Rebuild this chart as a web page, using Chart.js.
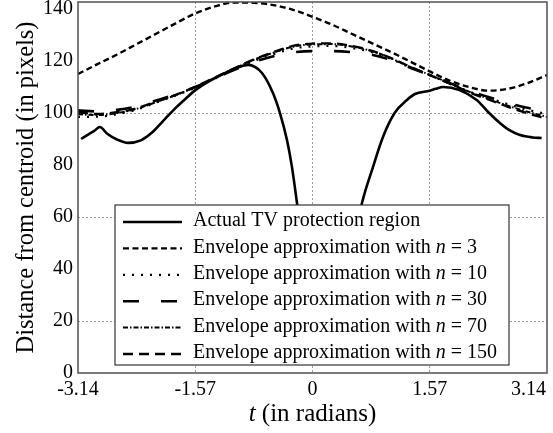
<!DOCTYPE html>
<html><head><meta charset="utf-8">
<script src="https://cdn.jsdelivr.net/npm/chart.js@4.4.1/dist/chart.umd.min.js"></script>
<style>html,body{margin:0;padding:0;background:#fff;}</style>
</head><body>
<canvas id="c" width="553" height="433"></canvas>
<script>
// ---- tick labels / axes ----
const xTickValues = [-3.14159, -1.5708, 0, 1.5708, 3.14159];
const xTickLabels = ['-3.14', '-1.57', '0', '1.57', '3.14'];
const yTickValues = [0, 20, 40, 60, 80, 100, 120, 140];
const yGridValues = [20, 60, 100];
const yMax = 142.7;
const xTitleItalic = 't';
const xTitleRest = ' (in radians)';
const yTitle = 'Distance from centroid (in pixels)';

// ---- series labels ----
const seriesLabels = [
  'Actual TV protection region',
  'Envelope approximation with n = 3',
  'Envelope approximation with n = 10',
  'Envelope approximation with n = 30',
  'Envelope approximation with n = 70',
  'Envelope approximation with n = 150'
];

// ---- actual region ----
const actualT = [-3.10, -3.00, -2.92, -2.85, -2.75, -2.62, -2.47, -2.30, -2.15, -2.00, -1.85, -1.70, -1.57, -1.40, -1.20, -1.00, -0.864, -0.677, -0.53, -0.436, -0.342, -0.275, -0.208, -0.15, 0.00, 0.20, 0.40, 0.55, 0.663, 0.81, 0.944, 1.10, 1.265, 1.372, 1.57, 1.65, 1.75, 1.97, 2.20, 2.35, 2.51, 2.65, 2.78, 2.95, 3.07];
const actualV = [90, 91.8, 93.2, 94.6, 92, 89.8, 88.5, 89.5, 92.5, 97, 101.5, 105.5, 108.8, 112, 115, 117.5, 118.5, 115.4, 107.7, 100, 89.6, 79.2, 65.4, 52, 35, 28, 35, 50, 65.4, 79.2, 90.8, 100, 105, 107.3, 108.6, 109.3, 110, 108.8, 105, 100.5, 96.2, 93.2, 91.5, 90.6, 90.4];

// ---- envelopes (shared t grid) ----
const envT = [-3.1416, -2.8798, -2.618, -2.3562, -2.0944, -1.8326, -1.5708, -1.309, -1.0472, -0.7854, -0.5236, -0.2618, 0, 0.2618, 0.5236, 0.7854, 1.0472, 1.309, 1.5708, 1.8326, 2.0944, 2.3562, 2.618, 2.8798, 3.1416];
const env3   = [115, 118.8, 122.5, 126.5, 130.5, 134.5, 138.3, 141, 142.5, 142.4, 141.5, 139.7, 137, 134, 130.5, 127, 123.5, 119.8, 116, 112.5, 110, 108.6, 109.3, 111.5, 114.6];
const env10  = [98.5, 98.6, 99.5, 101.3, 104, 106.7, 109.8, 113.2, 116.8, 120, 122.6, 124.8, 125.6, 125.8, 125, 123.5, 120.8, 117.5, 114.5, 111.4, 108.3, 105.8, 103.4, 101.3, 99.5];
const env30  = [101, 100.6, 101.2, 102.5, 104.8, 107.2, 110, 113.3, 116.6, 119.6, 121.8, 123.3, 123.8, 123.8, 123.4, 122.5, 120.4, 117.4, 114.6, 111.6, 108.6, 106.2, 103.8, 102, 100.5];
const env70  = [99.5, 99.2, 100, 101.6, 104.2, 106.9, 110, 113.5, 117.1, 120.5, 123.2, 125.5, 126.4, 126.5, 125.6, 123.9, 121.1, 117.7, 114.7, 111.5, 108.2, 105.5, 102.8, 100.5, 98.5];
const env150 = [100.3, 99.6, 100.3, 101.8, 104.4, 107, 110.1, 113.6, 117.2, 120.6, 123.4, 125.8, 126.7, 126.8, 125.8, 124, 121.2, 117.8, 114.6, 111.4, 108, 105.2, 102.4, 99.9, 97.8];

function pts(ts, vs) { return ts.map((t, i) => ({x: t, y: vs[i]})); }

const FONT = "'Liberation Serif', 'Times New Roman', serif";
Chart.defaults.font.family = FONT;
Chart.defaults.color = '#000';

const styles = [
  {w: 2.6, dash: []},
  {w: 2.4, dash: [6, 3.5]},
  {w: 2.2, dash: [2, 7]},
  {w: 2.6, dash: [16, 22]},
  {w: 2, dash: [5, 2, 1.5, 2]},
  {w: 2.4, dash: [10, 6]}
];
const seriesData = [pts(actualT, actualV), pts(envT, env3), pts(envT, env10), pts(envT, env30), pts(envT, env70), pts(envT, env150)];

const datasets = seriesData.map((d, i) => ({
  label: seriesLabels[i],
  data: d,
  borderColor: '#000',
  borderWidth: styles[i].w,
  borderDash: styles[i].dash,
  pointRadius: 0,
  fill: false,
  cubicInterpolationMode: 'monotone'
}));

const boxPlugin = {
  id: 'boxAndLegend',
  beforeDraw(chart) {
    const sx = chart.scales.x;
    if (sx && sx.getLabelItems) {
      const items = sx.getLabelItems();
      const last = items[items.length - 1];
      if (last && last.options) {
        last.options.textAlign = 'right';
        last.options.translation[0] = chart.chartArea.right - 1;
      }
    }
  },
  afterDatasetsDraw(chart) {
    const {ctx, chartArea: a} = chart;
    ctx.save();
    ctx.setLineDash([]);
    ctx.strokeStyle = '#505050';
    ctx.lineWidth = 1.5;
    ctx.strokeRect(a.left, a.top, a.right - a.left, a.bottom - a.top);
    ctx.restore();
  },
  afterDraw(chart) {
    const {ctx, chartArea: a} = chart;
    ctx.save();
    // x-axis title
    ctx.fillStyle = '#000';
    ctx.textBaseline = 'middle';
    const f1 = "italic 25px " + FONT, f2 = "25px " + FONT;
    ctx.font = f1; const w1 = ctx.measureText(xTitleItalic).width;
    ctx.font = f2; const w2 = ctx.measureText(xTitleRest).width;
    const cx = (a.left + a.right) / 2, ty = 414;
    let sx = cx - (w1 + w2) / 2;
    ctx.font = f1; ctx.textAlign = 'left'; ctx.fillText(xTitleItalic, sx, ty);
    ctx.font = f2; ctx.fillText(xTitleRest, sx + w1, ty);

    // legend box
    const lx = 115, ly = 205, lw = 394, lh = 160;
    ctx.fillStyle = '#fff';
    ctx.fillRect(lx, ly, lw, lh);
    ctx.strokeStyle = '#333';
    ctx.lineWidth = 1.2;
    ctx.setLineDash([]);
    ctx.strokeRect(lx, ly, lw, lh);
    const rowY0 = 221, rowH = 26.4;
    chart.data.datasets.forEach((ds, i) => {
      const y = rowY0 + i * rowH;
      ctx.save();
      ctx.strokeStyle = '#000';
      ctx.lineWidth = ds.borderWidth;
      ctx.setLineDash(ds.borderDash || []);
      ctx.beginPath();
      ctx.moveTo(123, y + 1);
      ctx.lineTo(182, y + 1);
      ctx.stroke();
      ctx.restore();
      ctx.fillStyle = '#000';
      ctx.textBaseline = 'middle';
      ctx.textAlign = 'left';
      const lab = ds.label;
      const k = lab.indexOf(' n = ');
      let x = 193;
      const fr = "20px " + FONT, fi = "italic 20px " + FONT;
      if (k < 0) {
        ctx.font = fr; ctx.fillText(lab, x, y);
      } else {
        const p1 = lab.slice(0, k + 1), p2 = 'n', p3 = lab.slice(k + 2);
        ctx.font = fr; ctx.fillText(p1, x, y); x += ctx.measureText(p1).width;
        ctx.font = fi; ctx.fillText(p2, x, y); x += ctx.measureText(p2).width;
        ctx.font = fr; ctx.fillText(p3, x, y);
      }
    });
    ctx.restore();
  }
};

new Chart(document.getElementById('c'), {
  type: 'line',
  data: {datasets},
  options: {
    responsive: false,
    animation: false,
    devicePixelRatio: 1,
    layout: {padding: {top: 2, right: 6, left: 0, bottom: 0}},
    plugins: {legend: {display: false}, tooltip: {enabled: false}},
    scales: {
      x: {
        type: 'linear',
        min: -3.14159, max: 3.14159,
        afterBuildTicks: s => { s.ticks = xTickValues.map(v => ({value: v})); },
        afterFit: s => { s.height = 60; s.paddingLeft = 0; s.paddingRight = 0; },
        ticks: {
          autoSkip: false, maxRotation: 0, minRotation: 0, padding: 5,
          color: '#000', font: {size: 20},
          callback: (v, i) => xTickLabels[i]
        },
        grid: {
          drawTicks: false,
          lineWidth: 1,
          color: c => (c.tick && Math.abs(c.tick.value) < 3) ? '#9a9a9a' : 'rgba(0,0,0,0)'
        },
        border: {display: false, dash: [2, 2]}
      },
      y: {
        type: 'linear',
        min: 0, max: yMax,
        afterBuildTicks: s => { s.ticks = yTickValues.map(v => ({value: v})); },
        afterFit: s => { s.width = 78; s.paddingTop = 0; s.paddingBottom = 0; },
        ticks: {padding: 5, color: '#000', font: {size: 20}, callback: v => String(v)},
        grid: {
          drawTicks: false,
          lineWidth: 1,
          color: c => (c.tick && yGridValues.includes(c.tick.value)) ? '#9a9a9a' : 'rgba(0,0,0,0)'
        },
        border: {display: false, dash: [2, 2]},
        title: {display: true, text: yTitle, font: {size: 24.5, lineHeight: 1}, padding: {top: 14, bottom: 0}, color: '#000'}
      }
    }
  },
  plugins: [boxPlugin]
});
</script>
</body></html>
